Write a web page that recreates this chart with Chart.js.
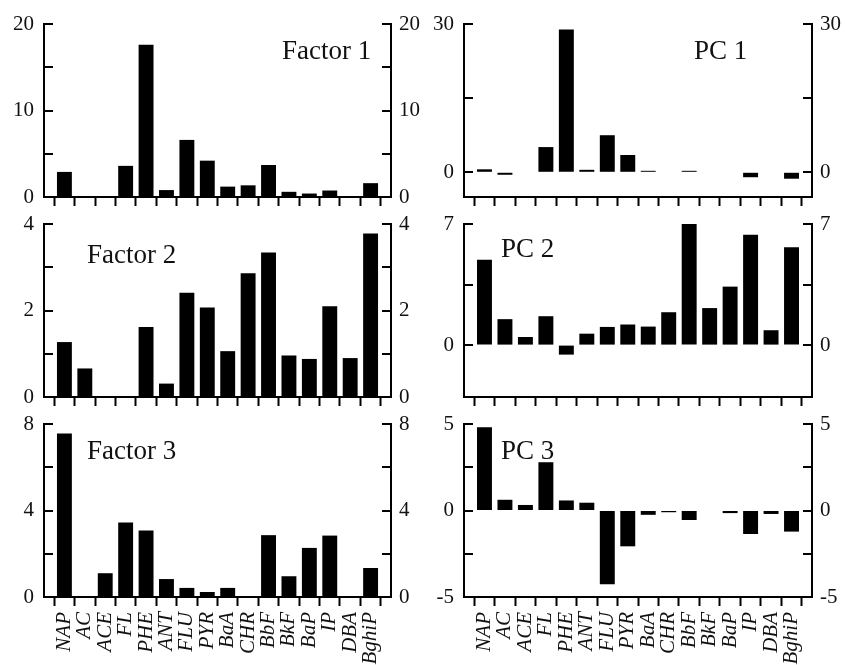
<!DOCTYPE html>
<html><head><meta charset="utf-8">
<script src="https://cdn.jsdelivr.net/npm/chart.js@4"></script>
<style>
html,body{margin:0;padding:0;background:#fff;}
#wrap{position:relative;width:845px;height:665px;overflow:hidden;background:#fff;}
canvas{position:absolute;}
</style></head><body>
<div id="wrap">
<canvas id="f1"></canvas><canvas id="p1"></canvas>
<canvas id="f2"></canvas><canvas id="p2"></canvas>
<canvas id="f3"></canvas><canvas id="p3"></canvas>
</div>
<script>
// ---- data ----
const categories = ['NAP','AC','ACE','FL','PHE','ANT','FLU','PYR','BaA','CHR','BbF','BkF','BaP','IP','DBA','BghiP'];

const factor1 = [2.9, 0, 0, 3.6, 17.6, 0.8, 6.6, 4.2, 1.2, 1.35, 3.7, 0.6, 0.4, 0.75, 0, 1.6];
const factor2 = [1.27, 0.66, 0, 0, 1.62, 0.31, 2.41, 2.07, 1.06, 2.86, 3.34, 0.96, 0.88, 2.1, 0.9, 3.78];
const factor3 = [7.56, 0, 1.1, 3.44, 3.07, 0.83, 0.42, 0.23, 0.42, 0, 2.86, 0.96, 2.27, 2.84, 0, 1.34];
const pc1 = [0.6, -0.5, 0, 5.1, 28.9, 0.5, 7.5, 3.5, 0.3, 0, 0.3, 0, 0, -1.0, 0, -1.3];
const pc2 = [4.94, 1.5, 0.47, 1.67, -0.55, 0.66, 1.05, 1.19, 1.07, 1.9, 7.0, 2.14, 3.38, 6.38, 0.86, 5.66];
const pc3 = [4.81, 0.62, 0.32, 2.79, 0.58, 0.45, -4.26, -2.07, -0.25, -0.1, -0.55, 0, -0.15, -1.36, -0.2, -1.22];

const factor1Ticks = [0, 5, 10, 15, 20];   const factor1Labels = [0, 10, 20];
const factor2Ticks = [0, 1, 2, 3, 4];      const factor2Labels = [0, 2, 4];
const factor3Ticks = [0, 2, 4, 6, 8];      const factor3Labels = [0, 4, 8];
const pc1Ticks = [0, 15, 30];              const pc1Labels = [0, 30];
const pc2Ticks = [0, 3.5, 7];              const pc2Labels = [0, 7];
const pc3Ticks = [-5, -2.5, 0, 2.5, 5];    const pc3Labels = [-5, 0, 5];

const titles = ['Factor 1', 'PC 1', 'Factor 2', 'PC 2', 'Factor 3', 'PC 3'];

// ---- rendering ----
const FONT = '"Liberation Serif", "Times New Roman", serif';
Chart.defaults.font.family = FONT;
Chart.defaults.color = '#111';

const inwardTicks = {
  id: 'inwardTicks',
  afterDraw(chart) {
    const ctx = chart.ctx, a = chart.chartArea;
    ctx.save();
    ctx.strokeStyle = '#000';
    ctx.lineWidth = 2;
    ['y', 'y2'].forEach(id => {
      const s = chart.scales[id];
      s.ticks.forEach(t => {
        const py = Math.round(s.getPixelForValue(t.value));
        ctx.beginPath();
        if (id === 'y') { ctx.moveTo(a.left, py); ctx.lineTo(a.left + 9, py); }
        else { ctx.moveTo(a.right, py); ctx.lineTo(a.right - 9, py); }
        ctx.stroke();
      });
    });
    const tc = chart.options.plugins.panelTitle;
    if (tc) {
      ctx.fillStyle = '#111';
      ctx.font = '27px ' + FONT;
      ctx.textBaseline = 'alphabetic';
      ctx.textAlign = 'left';
      ctx.fillText(tc.text, tc.x, tc.y);
    }
    ctx.restore();
  }
};

function makePanel(id, left, top, w, h, values, yMin, yMax, tickVals, tickLabels, leftW, rightW, xH, showX, title) {
  const cv = document.getElementById(id);
  cv.width = w; cv.height = h;
  cv.style.left = left + 'px'; cv.style.top = top + 'px';
  cv.style.width = w + 'px'; cv.style.height = h + 'px';
  const yAxis = (pos, width, pad) => ({
    type: 'linear', position: pos, min: yMin, max: yMax,
    afterBuildTicks: s => { s.ticks = tickVals.map(v => ({ value: v })); },
    afterFit: s => { s.width = width; s.paddingTop = 0; s.paddingBottom = 0; },
    ticks: {
      padding: pad, font: { size: 21 }, color: '#111',
      callback: v => tickLabels.includes(v) ? String(v) : ''
    },
    grid: { display: true, drawOnChartArea: false, drawTicks: false },
    border: { display: true, color: '#000', width: 2 }
  });
  return new Chart(cv, {
    type: 'bar',
    data: {
      datasets: [{
        data: values.map((v, i) => ({ x: i, y: v })),
        backgroundColor: '#000',
        borderWidth: 0,
        barPercentage: 0.73,
        categoryPercentage: 1.0,
        yAxisID: 'y'
      }]
    },
    options: {
      responsive: false, animation: false,
      layout: { padding: { top: 24, left: 0, right: 0, bottom: 0 } },
      plugins: { legend: { display: false }, tooltip: { enabled: false }, panelTitle: title },
      scales: {
        x: {
          type: 'linear', position: 'bottom', min: -1, max: 16, offset: false,
          afterBuildTicks: s => { s.ticks = categories.map((c, i) => ({ value: i })); },
          afterFit: s => { s.height = xH; },
          ticks: {
            display: showX, autoSkip: false, maxRotation: 90, minRotation: 90, padding: 6,
            font: { size: 21, style: 'italic' }, color: '#111',
            callback: v => categories[v]
          },
          grid: { display: true, drawOnChartArea: false, drawTicks: true, tickLength: 9, tickWidth: 2, tickColor: '#000' },
          border: { display: true, color: '#000', width: 2 }
        },
        y: yAxis('left', leftW, 10),
        y2: yAxis('right', rightW, 8)
      }
    },
    plugins: [inwardTicks]
  });
}

// left column canvas 0..422, right column 422..845
makePanel('f1', 0, 0, 422, 210, factor1, 0, 20, factor1Ticks, factor1Labels, 44, 31, 13, false, { text: titles[0], x: 282, y: 59 });
makePanel('p1', 422, 0, 423, 210, pc1, -5, 30, pc1Ticks, pc1Labels, 42, 33, 13, false, { text: titles[1], x: 272, y: 59 });
makePanel('f2', 0, 200, 422, 210, factor2, 0, 4, factor2Ticks, factor2Labels, 44, 31, 13, false, { text: titles[2], x: 87, y: 63 });
makePanel('p2', 422, 200, 423, 210, pc2, -3, 7, pc2Ticks, pc2Labels, 42, 33, 13, false, { text: titles[3], x: 79, y: 57 });
makePanel('f3', 0, 400, 422, 265, factor3, 0, 8, factor3Ticks, factor3Labels, 44, 31, 68, true, { text: titles[4], x: 87, y: 59 });
makePanel('p3', 422, 400, 423, 265, pc3, -5, 5, pc3Ticks, pc3Labels, 42, 33, 68, true, { text: titles[5], x: 79, y: 59 });
</script>
</body></html>
